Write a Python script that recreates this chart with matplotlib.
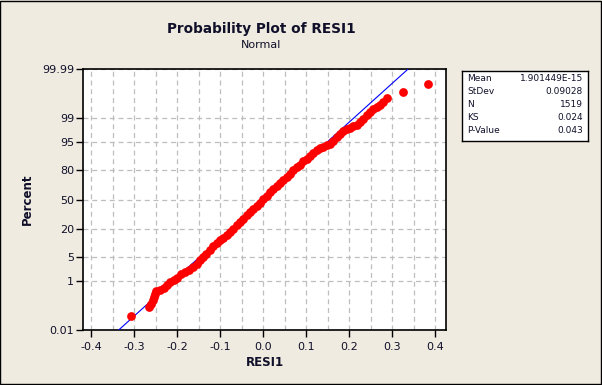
import numpy as np
import matplotlib
matplotlib.use('Agg')
from matplotlib import pyplot as plt
from matplotlib.ticker import FixedLocator, MultipleLocator
from statistics import NormalDist

# sorted residuals, with their plotting percent
resid = [-0.3078, -0.2643, -0.2605, -0.2558, -0.2535, -0.2519, -0.2496, -0.2403,
         -0.2310, -0.2233, -0.2155, -0.2078, -0.2000, -0.1907, -0.1822, -0.1721,
         -0.1628, -0.1550, -0.1473, -0.1395, -0.1318, -0.1240, -0.1163, -0.1085,
         -0.1008, -0.0930, -0.0853, -0.0775, -0.0698, -0.0620, -0.0543, -0.0465,
         -0.0388, -0.0310, -0.0233, -0.0155, -0.0078, 0.0000, 0.0078, 0.0155,
         0.0233, 0.0310, 0.0388, 0.0465, 0.0543, 0.0620, 0.0698, 0.0775,
         0.0853, 0.0930, 0.1008, 0.1085, 0.1163, 0.1240, 0.1318, 0.1395,
         0.1473, 0.1550, 0.1628, 0.1705, 0.1783, 0.1860, 0.1938, 0.2016,
         0.2093, 0.2171, 0.2248, 0.2326, 0.2403, 0.2481, 0.2558, 0.2636,
         0.2713, 0.2791, 0.2884, 0.3240, 0.3822]
pct = [0.046, 0.111, 0.152, 0.206, 0.276, 0.368, 0.461, 0.514,
       0.605, 0.747, 0.919, 1.12, 1.30, 1.73, 1.99, 2.29,
       2.73, 3.38, 4.16, 5.07, 6.13, 7.37, 9.09, 10.7,
       12.2, 13.8, 15.6, 17.9, 20.2, 23.3, 26.3, 29.5,
       32.8, 36.3, 39.9, 43.2, 46.6, 50.4, 54.1, 58.6,
       62.3, 65.5, 68.5, 71.5, 74.0, 77.0, 79.8, 82.1,
       84.2, 86.2, 87.8, 89.4, 90.9, 92.0, 92.8, 93.4,
       94.0, 94.5, 95.3, 96.2, 96.9, 97.45, 97.8, 98.0,
       98.2, 98.4, 98.7, 98.93, 99.19, 99.40, 99.51, 99.59,
       99.65, 99.74, 99.81, 99.89, 99.954]

mean = 1.901449e-15
stdev = 0.09028

stat_names = ['Mean', 'StDev', 'N', 'KS', 'P-Value']
stat_values = ['1.901449E-15', '0.09028', '1519', '0.024', '0.043']

y_ticks = [0.01, 1, 5, 20, 50, 80, 95, 99, 99.99]
y_labels = ['0.01', '1', '5', '20', '50', '80', '95', '99', '99.99']
x_ticks = [-0.4, -0.3, -0.2, -0.1, 0.0, 0.1, 0.2, 0.3, 0.4]

_nd = NormalDist()


def probit(p):
    p = np.clip(np.asarray(p, dtype=float) / 100.0, 1e-12, 1 - 1e-12)
    return np.vectorize(_nd.inv_cdf, otypes=[float])(p)


def inv_probit(z):
    z = np.asarray(z, dtype=float)
    return 100.0 * np.vectorize(_nd.cdf, otypes=[float])(z)


bg = '#EFEBE0'
txt = '#10102a'

fig = plt.figure(figsize=(6.02, 3.85), dpi=100, facecolor=bg)
fig.patches.append(plt.Rectangle((0.0008, 0.0013), 0.9975, 0.996, transform=fig.transFigure,
                                 fill=False, edgecolor='black', linewidth=1.0))

ax = fig.add_axes([0.1384, 0.1429, 0.602, 0.677])
ax.set_facecolor('white')
ax.set_yscale('function', functions=(probit, inv_probit))
ax.set_ylim(0.01, 99.99)
ax.set_xlim(-0.418, 0.424)

# fitted normal line
line_p = np.array([0.01, 99.99])
line_x = [NormalDist(mean, stdev).inv_cdf(p / 100.0) for p in line_p]
ax.plot(line_x, line_p, color='#0000FF', linewidth=0.8, zorder=3)

ax.plot(resid, pct, 'o', color='#FF0000', markersize=6.3, markeredgewidth=0, zorder=4)

ax.yaxis.set_major_locator(FixedLocator(y_ticks))
ax.set_yticklabels(y_labels)
ax.yaxis.set_minor_locator(FixedLocator([]))
ax.xaxis.set_major_locator(FixedLocator(x_ticks))
ax.set_xticklabels(['%.1f' % v for v in x_ticks])
ax.xaxis.set_minor_locator(MultipleLocator(0.05))
ax.tick_params(which='major', direction='out', length=5, width=1, colors='black',
               labelcolor=txt, labelsize=8)
ax.tick_params(axis='y', pad=1.5)
ax.tick_params(which='minor', length=0)
ax.grid(True, which='both', axis='x', color='#BEBEBE', linestyle=(0, (4, 3)), linewidth=0.9)
ax.grid(True, which='major', axis='y', color='#BEBEBE', linestyle=(0, (4, 3)), linewidth=0.9)
ax.set_axisbelow(True)
for s in ax.spines.values():
    s.set_linewidth(1.2)

ax.set_xlabel('RESI1', fontsize=8.5, fontweight='bold', color=txt, labelpad=3)
ax.set_ylabel('Percent', fontsize=8.5, fontweight='bold', color=txt, labelpad=6)

fig.text(0.434, 0.925, 'Probability Plot of RESI1', ha='center', va='center',
         fontsize=9.8, fontweight='bold', color=txt)
fig.text(0.434, 0.882, 'Normal', ha='center', va='center', fontsize=8, color=txt)

# stats box
box = fig.add_axes([0.7674, 0.6325, 0.2093, 0.1818])
box.set_facecolor('white')
box.set_xticks([])
box.set_yticks([])
for s in box.spines.values():
    s.set_linewidth(1.0)
for i, (name, val) in enumerate(zip(stat_names, stat_values)):
    yy = 0.9 - i * 0.185
    box.text(0.04, yy, name, ha='left', va='center', fontsize=6.5, color=txt,
             transform=box.transAxes)
    box.text(0.96, yy, val, ha='right', va='center', fontsize=6.5, color=txt,
             transform=box.transAxes)

fig.savefig('out.png', dpi=100, facecolor=bg)
